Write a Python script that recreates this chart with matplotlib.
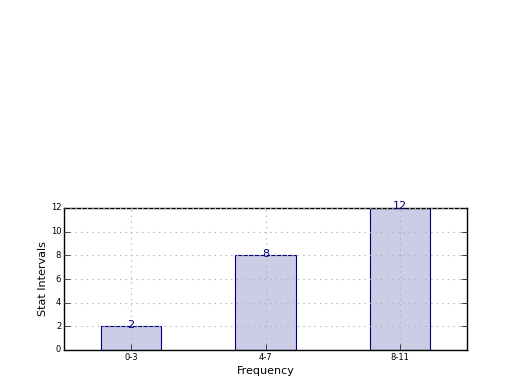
import matplotlib
matplotlib.use("Agg")
import matplotlib.pyplot as plt

categories = ["0-3", "4-7", "8-11"]
values = [2, 8, 12]

plt.style.use("classic")
fig = plt.figure(figsize=(5.2, 3.9), dpi=100, facecolor="white")
ax = fig.add_axes([64/520, 40/390, (467-64)/520, (350-208)/390])
ax.set_facecolor("white")
x = range(len(categories))
bars = ax.bar(x, values, width=0.45, align="center", color=(0.8, 0.8, 0.9),
              edgecolor="navy", linewidth=0.8)
for xi, v in zip(x, values):
    ax.annotate(str(v), (xi, v), xytext=(0, -2.5), textcoords="offset points",
                ha="center", va="bottom", color="navy", fontsize=8)
ax.set_xlim(-0.5, 2.5)
ax.set_ylim(0, 12)
ax.set_xticks(list(x))
ax.set_xticklabels(categories)
ax.set_yticks(range(0, 13, 2))
ax.tick_params(labelsize=6, direction="in", top=False, right=True, pad=2)
ax.grid(True, linestyle=":", color="0.7", linewidth=0.8)
ax.set_axisbelow(False)
ax.set_xlabel("Frequency", fontsize=8, labelpad=3)
ax.set_ylabel("Stat Intervals", fontsize=8, labelpad=2)
fig.savefig("out.png", dpi=100, facecolor="white")
